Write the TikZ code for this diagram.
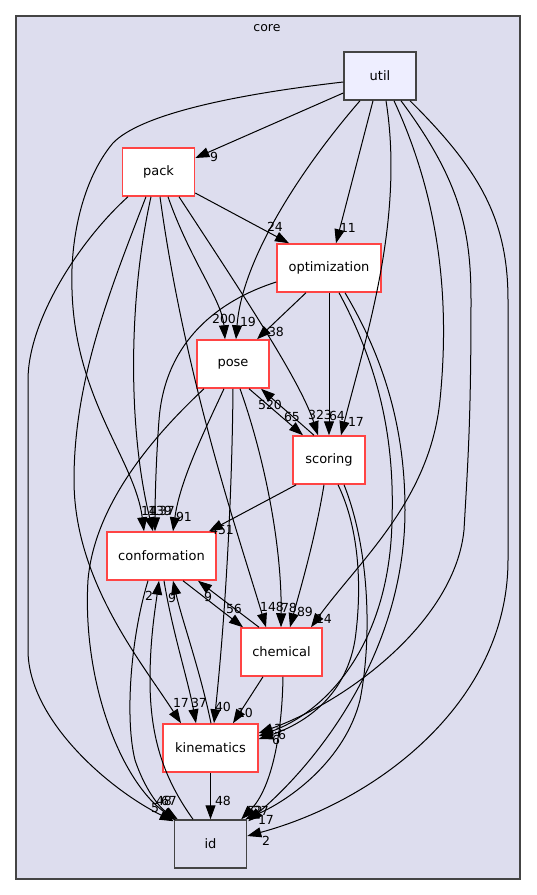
\documentclass[tikz,border=0pt]{standalone}
\usepackage{fontspec}
\setmainfont{DejaVu Sans}
\usetikzlibrary{arrows.meta}
\definecolor{clfill}{RGB}{221,221,238}
\definecolor{utfill}{RGB}{238,238,255}
\definecolor{bord}{RGB}{68,68,68}
\definecolor{redb}{RGB}{255,68,68}
\tikzset{
  dirbox/.style={draw=redb, fill=white, line width=1.5pt, minimum height=48pt, inner sep=0pt, font=\fontsize{13}{15}\selectfont},
  topbox/.style={draw=bord, line width=1.5pt, minimum height=48pt, inner sep=0pt, font=\fontsize{13}{15}\selectfont},
  edge/.style={draw=black, line width=1pt, -{Triangle[length=14pt,width=10pt]}},
  lbl/.style={inner sep=0pt, font=\fontsize{12.5}{14}\selectfont}
}
\begin{document}
\begin{tikzpicture}[x=1pt,y=-1pt]
\useasboundingbox (0,0) rectangle (536,895);
\draw[bord, fill=clfill, line width=1.5pt] (16,16) rectangle (520,879);
\node[lbl] (core) at (267,28) {core};

\node[topbox, fill=utfill, minimum width=72pt] (util) at (380,76) {util};
\node[dirbox, minimum width=72pt] (pack) at (158.5,172) {pack};
\node[dirbox, minimum width=104pt] (optimization) at (329,268) {optimization};
\node[dirbox, minimum width=72pt] (pose) at (233,364) {pose};
\node[dirbox, minimum width=72pt] (scoring) at (329,460) {scoring};
\node[dirbox, minimum width=109pt] (conformation) at (161.5,556) {conformation};
\node[dirbox, minimum width=81pt] (chemical) at (281.5,652) {chemical};
\node[dirbox, minimum width=95pt] (kinematics) at (210.5,748) {kinematics};
\node[topbox, fill=clfill, minimum width=72pt] (id) at (210.5,844) {id};

% util
\draw[edge] ([yshift=-17]util.west) -- ([yshift=14]pack.east);
\draw[edge] ([yshift=-6]util.west) .. controls (230,95) and (140,115) .. (113,143)
  .. controls (82,180) and (70,240) .. (72,290)
  .. controls (75,400) and (135,460) .. ([xshift=-17.5]conformation.north);
\draw[edge] ([xshift=-20]util.south) .. controls (300,170) and (242,260) .. ([xshift=3]pose.north);
\draw[edge] ([xshift=-7]util.south) -- ([xshift=7]optimization.north);
\draw[edge] ([xshift=6]util.south) .. controls (405,220) and (365,340) .. ([xshift=12]scoring.north);
\draw[edge] ([xshift=14]util.south) .. controls (440,200) and (450,300) .. (440,400)
  .. controls (430,500) and (360,560) .. ([xshift=29.5]chemical.north);
\draw[edge] ([xshift=21]util.south) .. controls (460,180) and (471,230) .. (471,300)
  .. controls (471,420) and (468,460) .. (464,530)
  .. controls (455,620) and (350,700) .. ([yshift=15]kinematics.east);
\draw[edge] ([xshift=30]util.south) .. controls (480,170) and (508,220) .. (508,300)
  -- (508,560) .. controls (508,700) and (380,800) .. ([yshift=8]id.east);

% pack
\draw[edge] ([yshift=-21]pack.east) -- ([xshift=-40]optimization.north);
\draw[edge] ([xshift=9.5]pack.south) .. controls (190,260) and (222,300) .. ([xshift=-8]pose.north);
\draw[edge] ([xshift=20.5]pack.south) .. controls (240,290) and (300,380) .. ([xshift=-11]scoring.north);
\draw[edge] ([xshift=1.5]pack.south) .. controls (185,380) and (240,540) .. ([xshift=-15.5]chemical.north);
\draw[edge] ([xshift=-7.5]pack.south) .. controls (128,300) and (128,430) .. ([xshift=-8.5]conformation.north);
\draw[edge] ([xshift=-12.5]pack.south) .. controls (110,290) and (74,380) .. (74,480)
  .. controls (74,580) and (140,660) .. ([xshift=-29.5]kinematics.north);
\draw[edge] ([xshift=-30.5]pack.south) .. controls (80,240) and (28,320) .. (28,380)
  -- (28,650) .. controls (28,720) and (110,790) .. ([xshift=0,yshift=-2]id.north west);

% optimization
\draw[edge] ([xshift=-23]optimization.south) -- ([xshift=24]pose.north);
\draw[edge] (optimization.south) -- (scoring.north);
\draw[edge] ([yshift=-14]optimization.west) .. controls (220,300) and (165,340) .. (159,420)
  .. controls (156,460) and (155,500) .. ([xshift=-6.5]conformation.north);
\draw[edge] ([xshift=10]optimization.south) .. controls (375,360) and (395,430) .. (392,520)
  .. controls (390,640) and (330,710) .. ([yshift=12]kinematics.east);
\draw[edge] ([xshift=16]optimization.south) .. controls (385,360) and (405,430) .. (405,510)
  .. controls (405,650) and (320,760) .. ([xshift=1,yshift=-2]id.north east);

% pose
\draw[edge] ([xshift=16]pose.south) -- ([xshift=-26]scoring.north);
\draw[edge] ([xshift=-15]scoring.north) -- ([xshift=28]pose.south);
\draw[edge] ([xshift=-9]pose.south) .. controls (205,430) and (180,480) .. ([xshift=11.5]conformation.north);
\draw[edge] ([xshift=7]pose.south) .. controls (262,450) and (282,540) .. ([xshift=-0.5]chemical.north);
\draw[edge] (pose.south) .. controls (232,500) and (225,620) .. ([xshift=3.5]kinematics.north);
\draw[edge] ([xshift=-29]pose.south) .. controls (160,430) and (95,500) .. (88,580)
  .. controls (82,680) and (120,780) .. ([xshift=2,yshift=-1]id.north west);

% scoring
\draw[edge] ([xshift=4]scoring.south west) -- ([xshift=47.5]conformation.north);
\draw[edge] ([xshift=-5]scoring.south) .. controls (315,540) and (300,590) .. ([xshift=8.5]chemical.north);
\draw[edge] ([xshift=9]scoring.south) .. controls (360,530) and (362,590) .. (355,640)
  .. controls (345,700) and (300,725) .. ([yshift=9]kinematics.east);
\draw[edge] ([xshift=15]scoring.south) .. controls (370,550) and (372,640) .. (360,700)
  .. controls (345,760) and (290,800) .. ([xshift=-2]id.north east);

% conformation
\draw[edge] ([xshift=21.5]conformation.south) -- ([xshift=-38.5]chemical.north);
\draw[edge] ([xshift=-22.5]chemical.north) -- ([xshift=36.5]conformation.south);
\draw[edge] ([xshift=2.5]conformation.south) .. controls (172,630) and (188,680) .. ([xshift=-14.5]kinematics.north);
\draw[edge] ([xshift=0.5]kinematics.north) .. controls (200,670) and (182,620) .. ([xshift=11.5]conformation.south);
\draw[edge] ([xshift=-13.5]conformation.south) .. controls (130,640) and (125,720) .. (135,760)
  .. controls (145,790) and (160,808) .. ([xshift=4]id.north west);
\draw[edge] ([xshift=-17.5]id.north) .. controls (165,780) and (150,740) .. (150,680)
  .. controls (150,640) and (155,610) .. ([xshift=-2.5]conformation.south);

% chemical
\draw[edge] ([xshift=-18.5]chemical.south) -- ([xshift=22.5]kinematics.north);
\draw[edge] ([xshift=1.5]chemical.south) .. controls (282,740) and (270,790) .. ([xshift=-6]id.north east);

% kinematics
\draw[edge] (kinematics.south) -- (id.north);

% labels
\node[lbl] (l1) at (214,157) {9};
\node[lbl] (l2) at (149,511) {14};
\node[lbl] (l3) at (248,322) {19};
\node[lbl] (l4) at (348,228) {11};
\node[lbl] (l5) at (356,422) {17};
\node[lbl] (l6) at (324,619) {14};
\node[lbl] (l7) at (278,729) {3};
\node[lbl] (l8) at (266,841) {2};
\node[lbl] (l9) at (275,227) {24};
\node[lbl] (l10) at (224,319) {200};
\node[lbl] (l11) at (320,415) {323};
\node[lbl] (l12) at (272,607) {148};
\node[lbl] (l13) at (160,511) {139};
\node[lbl] (l14) at (181,703) {17};
\node[lbl] (l15) at (155,808) {5};
\node[lbl] (l16) at (276,332) {38};
\node[lbl] (l17) at (337,416) {64};
\node[lbl] (l18) at (163,511) {137};
\node[lbl] (l19) at (282,735) {6};
\node[lbl] (l20) at (266,820) {17};
\node[lbl] (l21) at (292,417) {65};
\node[lbl] (l22) at (270,405) {520};
\node[lbl] (l23) at (184,517) {91};
\node[lbl] (l24) at (289,608) {78};
\node[lbl] (l25) at (223,707) {40};
\node[lbl] (l26) at (164,801) {48};
\node[lbl] (l27) at (222,530) {451};
\node[lbl] (l28) at (305,612) {89};
\node[lbl] (l29) at (276,740) {6};
\node[lbl] (l30) at (255,811) {52};
\node[lbl] (l31) at (234,609) {56};
\node[lbl] (l32) at (208,597) {9};
\node[lbl] (l33) at (199,703) {37};
\node[lbl] (l34) at (172,598) {9};
\node[lbl] (l35) at (169,801) {67};
\node[lbl] (l36) at (149,596) {2};
\node[lbl] (l37) at (245,713) {10};
\node[lbl] (l38) at (261,811) {27};
\node[lbl] (l39) at (223,801) {48};
\end{tikzpicture}
\end{document}
